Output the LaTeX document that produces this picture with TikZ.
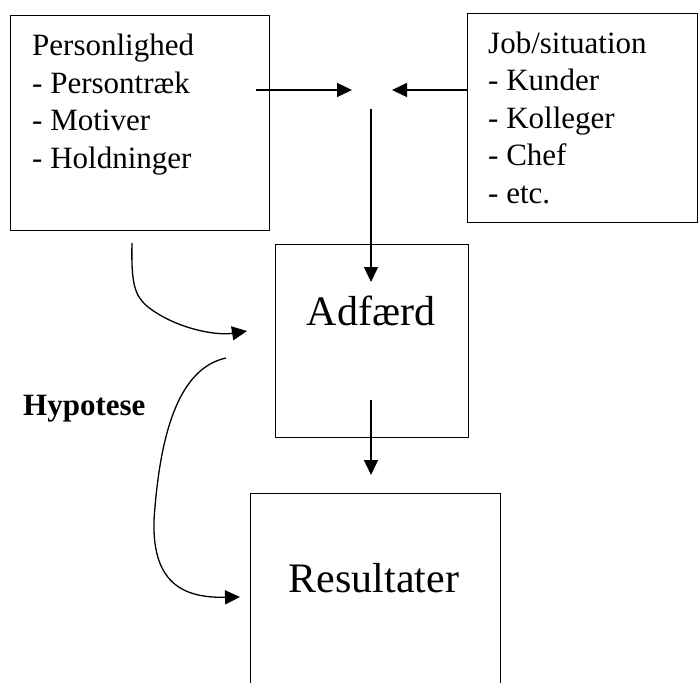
\documentclass[tikz,border=0pt]{standalone}
\usepackage{fontspec}
\setmainfont{Liberation Serif}
\usetikzlibrary{arrows.meta}
\begin{document}
\begin{tikzpicture}[x=1pt,y=-1pt,
  box/.style={draw, line width=1.3pt, inner sep=0pt, anchor=north west},
  list/.style={anchor=base west, align=left, inner sep=0pt, font=\rmfamily\fontsize{31}{37.4}\selectfont},
  big/.style={inner sep=0pt, anchor=base, font=\rmfamily\fontsize{42}{48}\selectfont},
  arr/.style={line width=1.3pt, -{Triangle[length=15pt,width=14pt]}}]
\useasboundingbox (0,0) rectangle (698,682);
\clip (0,0) rectangle (698,682);
% boxes
\node[box, minimum width=259pt, minimum height=215pt] (pers) at (10,15) {};
\node[box, minimum width=230pt, minimum height=209pt] (job) at (467,13) {};
\node[box, minimum width=193pt, minimum height=193pt] (adf) at (275,244) {};
\node[box, minimum width=250pt, minimum height=260pt] (res) at (250,493) {};
% texts (base anchor = baseline of the last line)
\node[list] (perstxt) at (32,168) {Personlighed\\- Persontræk\\- Motiver\\- Holdninger};
\node[list] (jobtxt) at (488,203) {Job/situation\\- Kunder\\- Kolleger\\- Chef\\- etc.};
\node[big] (adftxt) at (371,325) {Adfærd};
\node[big] (restxt) at (374,592) {Resultater};
\node[anchor=base west, inner sep=0pt, font=\rmfamily\fontsize{31}{37}\selectfont\bfseries] (hyp) at (23,415) {Hypotese};
% connector end points
\coordinate (a1s) at (256,90);
\coordinate (a1e) at (352,90);
\coordinate (a2s) at (job.west |- a1s);
\coordinate (a2e) at (392,90);
\coordinate (v1s) at (371,109);
\coordinate (v1e) at (371,282);
\coordinate (v2s) at (371,400);
\coordinate (v2e) at (371,475);
\coordinate (c1s) at (132,243);
\coordinate (c1e) at (247,331);
\coordinate (c2s) at (226,358);
\coordinate (c2e) at (240,597);
% connectors
\draw[arr] (a1s) -- (a1e);
\draw[arr] (a2s) -- (a2e);
\draw[arr] (v1s) -- (v1e);
\draw[arr] (v2s) -- (v2e);
\draw[arr] (c1s) .. controls (131,285) and (135,296) .. (148,307)
  .. controls (175,328) and (215,336) .. (c1e);
\draw[arr] (c2s) .. controls (180,368) and (160,430) .. (154,520)
  .. controls (152,585) and (185,598) .. (c2e);
\end{tikzpicture}
\end{document}
